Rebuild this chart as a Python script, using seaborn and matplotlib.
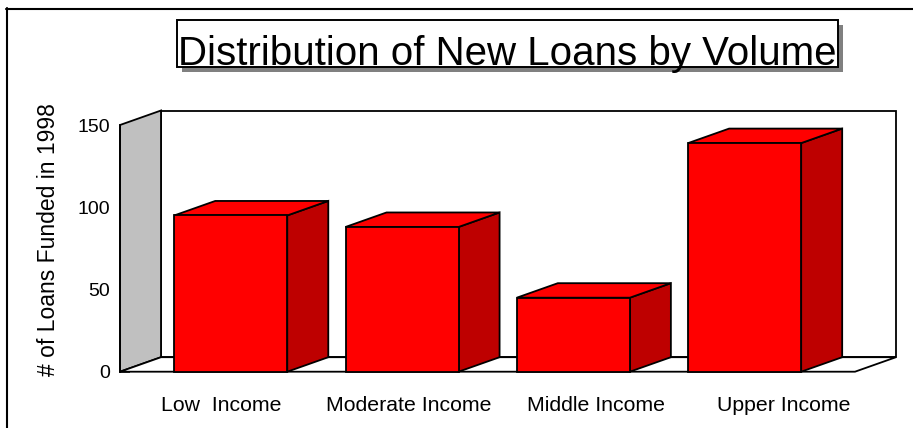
import matplotlib
matplotlib.use("Agg")
import matplotlib.pyplot as plt
from matplotlib.patches import Polygon, Rectangle
from matplotlib.lines import Line2D
import seaborn as sns
import pandas as pd

# ---- data ----
categories = ["Low  Income", "Moderate Income", "Middle Income", "Upper Income"]
loans = [95, 88, 45, 139]
y_ticks = [0, 50, 100, 150]
title = "Distribution of New Loans by Volume"
y_label = "# of Loans Funded in 1998"

df = pd.DataFrame({"category": categories, "loans": loans})

sns.set_theme(style="white")
plt.rcParams["font.family"] = ["Liberation Sans", "DejaVu Sans"]

W, H = 913, 428
fig = plt.figure(figsize=(W / 100, H / 100), dpi=100)
fig.patch.set_facecolor("white")


def fx(px):
    return px / W


def fy(py):
    return 1 - py / H


# front plane of the plot box (pixels)
FL, FR, FB, FT = 120, 855, 371.7, 125
ax = fig.add_axes([fx(FL), fy(FB), fx(FR) - fx(FL), fy(FT) - fy(FB)])
ax.patch.set_alpha(0)

RED = "#FF0000"
DARK = "#BE0000"
GRAY = "#C0C0C0"
LW = 1.3

sns.barplot(data=df, x="category", y="loans", ax=ax, color=RED, saturation=1,
            width=0.66, edgecolor="black", linewidth=LW, zorder=3)

# scale: bar centre spacing ~171.3 px, first bar centre at 230.75 px
XL = (FL - 230.75) / 171.3
XR = (FR - 230.75) / 171.3
ax.set_xlim(XL, XR)
ax.set_ylim(0, 150)

# depth offset in data units
DX = 41 / 171.3
DY = 14.5 / ((FB - FT) / 150)

# walls and floor
back = Rectangle((XL + DX, DY), XR - XL, 150, facecolor="white", edgecolor="black",
                 lw=LW, clip_on=False, zorder=0.5)
ax.add_patch(back)
left_wall = Polygon([(XL, 0), (XL, 150), (XL + DX, 150 + DY), (XL + DX, DY)],
                    closed=True, facecolor=GRAY, edgecolor="black", lw=LW,
                    clip_on=False, zorder=0.6)
ax.add_patch(left_wall)
floor = Polygon([(XL, 0), (XR, 0), (XR + DX, DY), (XL + DX, DY)], closed=True,
                facecolor="white", edgecolor="black", lw=LW, clip_on=False, zorder=0.7)
ax.add_patch(floor)

# 3-D faces of bars
for p in list(ax.patches):
    if p in (back, left_wall, floor):
        continue
    x0, w, h = p.get_x(), p.get_width(), p.get_height()
    x1 = x0 + w
    top = Polygon([(x0, h), (x1, h), (x1 + DX, h + DY), (x0 + DX, h + DY)], closed=True,
                  facecolor=RED, edgecolor="black", lw=LW, clip_on=False, zorder=2.5)
    side = Polygon([(x1, 0), (x1, h), (x1 + DX, h + DY), (x1 + DX, DY)], closed=True,
                   facecolor=DARK, edgecolor="black", lw=LW, clip_on=False, zorder=2.4)
    ax.add_patch(top)
    ax.add_patch(side)
    p.set_clip_on(False)

# axes styling
for s in ["top", "right", "bottom"]:
    ax.spines[s].set_visible(False)
ax.spines["left"].set_color("black")
ax.spines["left"].set_linewidth(LW)
ax.spines["left"].set_zorder(5)
ax.set_yticks(y_ticks)
ax.tick_params(axis="y", direction="in", length=7.5, width=1.1, color="black",
               pad=7, labelsize=14, labelcolor="black", left=True)
ax.set_xticks([])
ax.set_xlabel("")
ax.set_ylabel(y_label, fontsize=16.5, color="black")
ax.yaxis.set_label_coords((60 - FL) / (FR - FL), (FB - 240) / (FB - FT))

# category labels on their own axis (Excel-style spacing)
lax = fig.add_axes([fx(128), fy(FB), fx(877) - fx(128), 0.001])
lax.set_xlim(-0.5, 3.5)
lax.set_xticks(range(len(categories)))
lax.set_xticklabels(categories, fontsize=15.3, color="black")
lax.tick_params(axis="x", length=0, pad=17.5)
lax.set_yticks([])
for s in lax.spines.values():
    s.set_visible(False)
lax.patch.set_alpha(0)

# title box with shadow
fig.add_artist(Rectangle((fx(182), fy(72)), fx(843) - fx(182), fy(25) - fy(72),
                         transform=fig.transFigure, facecolor="#808080",
                         edgecolor="none", zorder=1))
fig.add_artist(Rectangle((fx(177), fy(67)), fx(838) - fx(177), fy(20) - fy(67),
                         transform=fig.transFigure, facecolor="white",
                         edgecolor="black", lw=1.4, zorder=2))
fig.text(fx(507), fy(65), title, ha="center", va="baseline", fontsize=29,
         color="black", zorder=3)

# outer frame (top and left edges visible)
fig.add_artist(Line2D([fx(6.5), fx(6.5)], [fy(8), 0], transform=fig.transFigure,
                      color="black", lw=1.5))
fig.add_artist(Line2D([fx(6), 1], [fy(8.5), fy(8.5)], transform=fig.transFigure,
                      color="black", lw=1.5))

fig.savefig("out.png", dpi=100, facecolor="white")
